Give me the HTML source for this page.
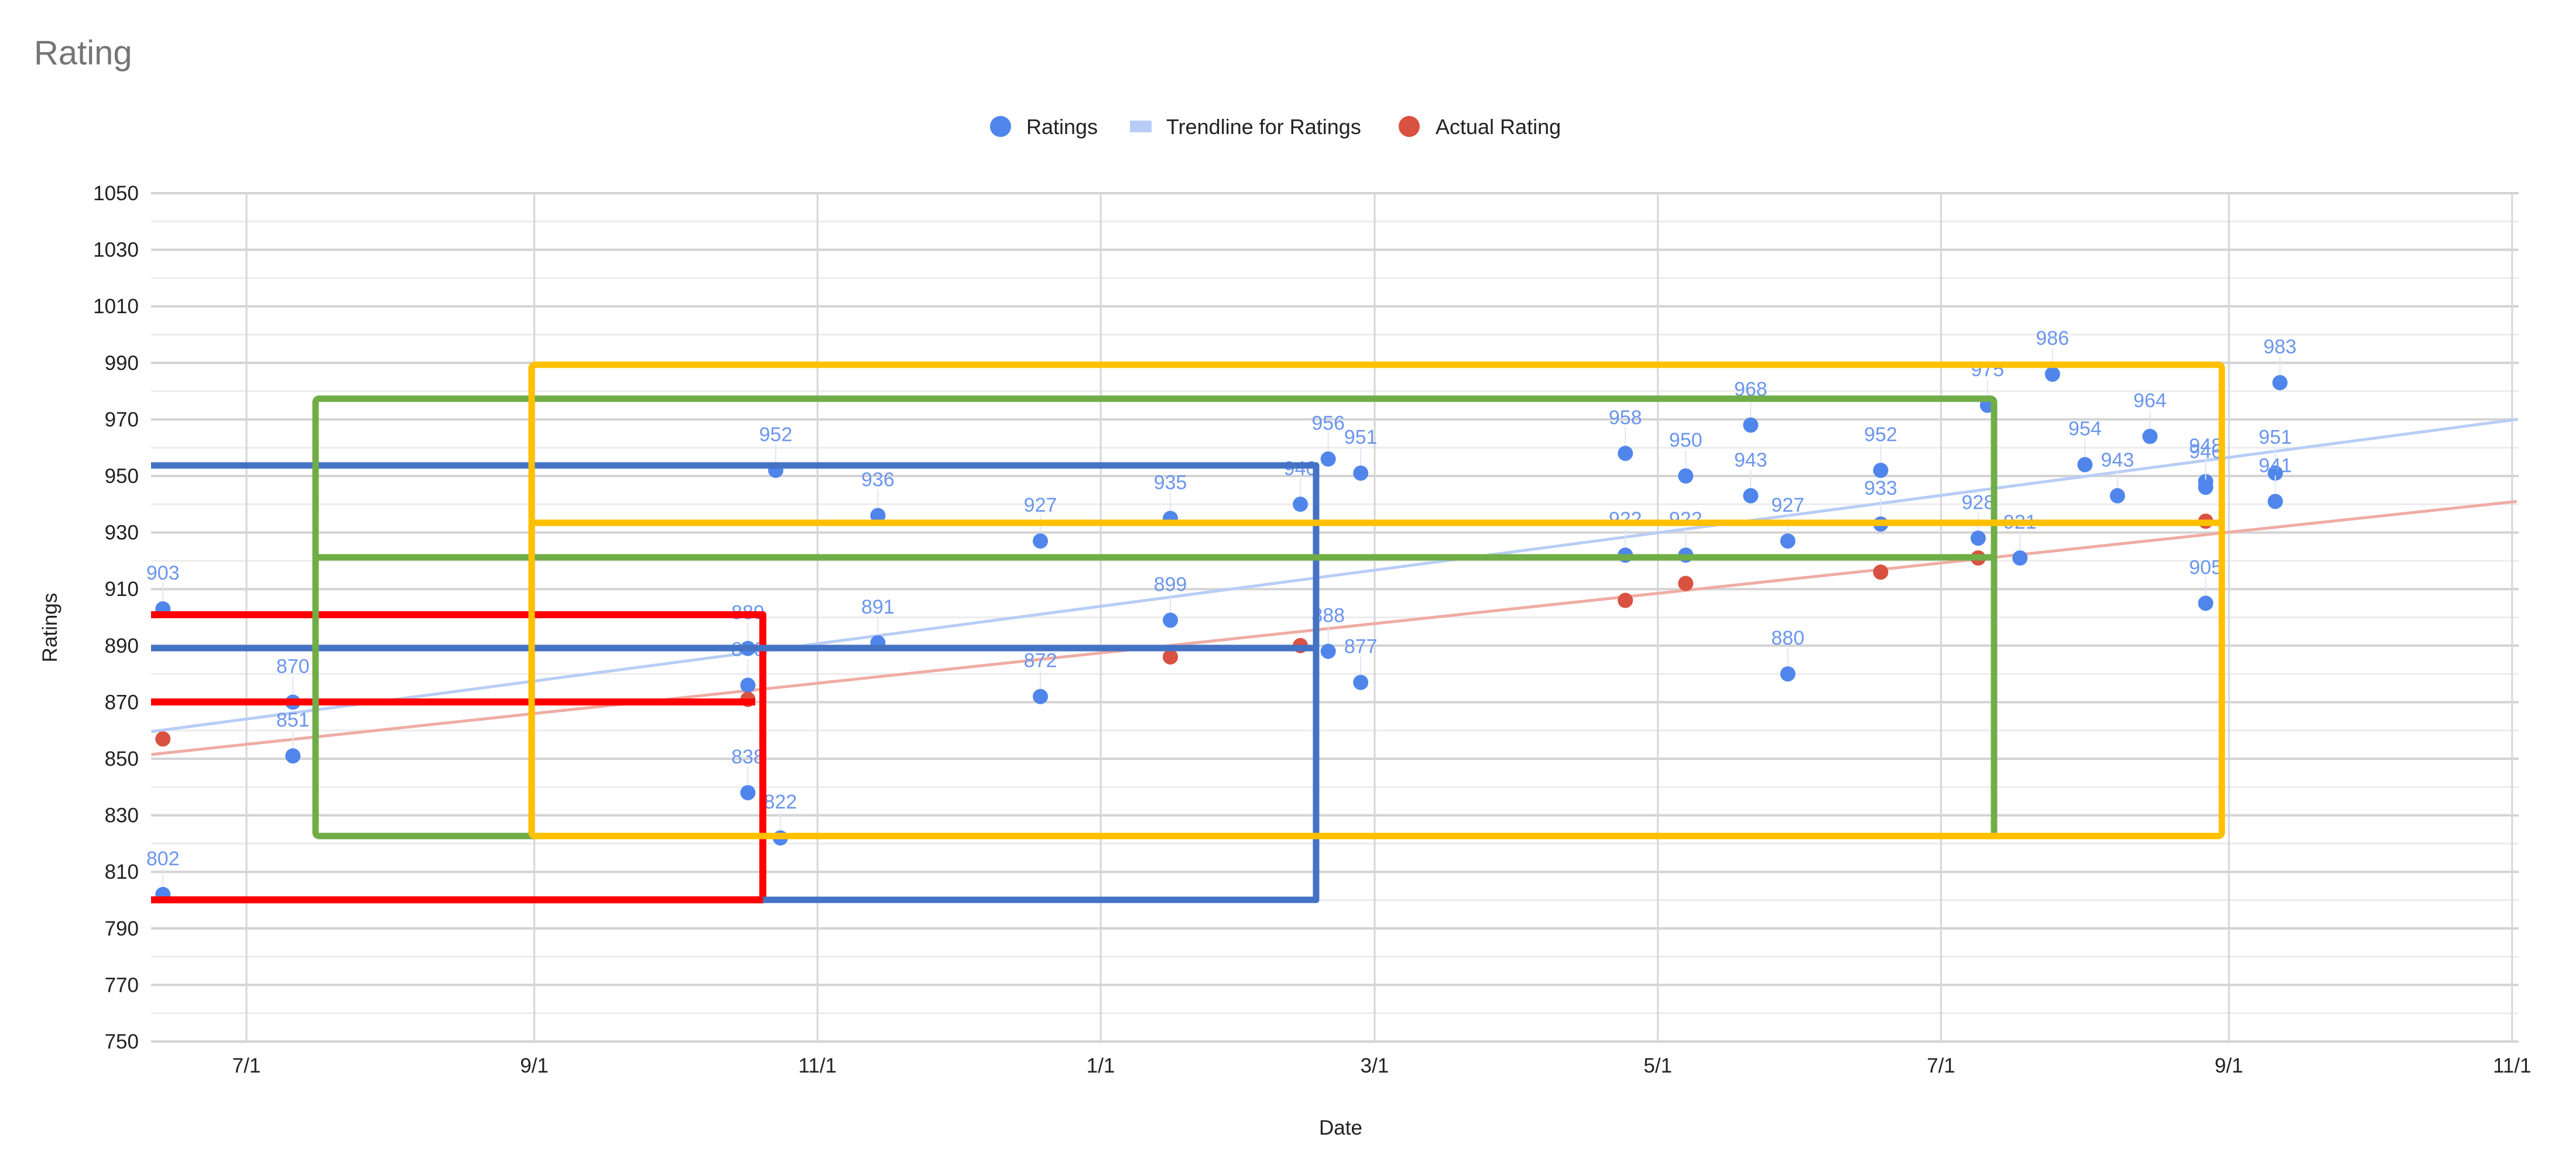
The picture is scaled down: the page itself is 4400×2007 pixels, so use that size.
<!DOCTYPE html>
<html><head><meta charset="utf-8"><style>
html,body{margin:0;padding:0;background:#fff;}
svg{display:block;font-family:"Liberation Sans",Arial,sans-serif;}
</style></head><body>
<svg id="chart" width="4400" height="2007" viewBox="0 0 4400 2007" xmlns="http://www.w3.org/2000/svg">
<rect x="0" y="0" width="4400" height="2007" fill="#fff"/>
<text x="58" y="110" font-size="58" fill="#757575">Rating</text>
<g>
  <g>
    <circle cx="1709" cy="216" r="18" fill="#5086ec"/>
    <text x="1753" y="229" font-size="36" fill="#222">Ratings</text>
  </g>
  <g>
    <rect x="1930" y="206" width="37" height="20" fill="#b8cdf6"/>
    <text x="1992" y="229" font-size="36" fill="#222">Trendline for Ratings</text>
  </g>
  <g>
    <circle cx="2407" cy="216" r="18" fill="#d95140"/>
    <text x="2452" y="229" font-size="36" fill="#222">Actual Rating</text>
  </g>
</g>
<g id="grid"></g>
<g id="axes"></g>
<g id="trends"></g>
<g id="marks"></g>
<g id="boxes" fill="none" stroke-linejoin="round">
  <g stroke="#ff0000" stroke-width="12">
    <polyline points="258,1050 1303,1050 1303,1537 258,1537"/>
    <line x1="258" y1="1199" x2="1290" y2="1199"/>
  </g>
  <g stroke="#4472c4" stroke-width="11">
    <polyline points="258,795 2248,795 2248,1537 1303,1537"/>
    <line x1="258" y1="1107" x2="2248" y2="1107"/>
  </g>
  <g stroke="#70ad47" stroke-width="11">
    <rect x="539" y="681" width="2867" height="747" rx="6"/>
    <line x1="539" y1="952" x2="3406" y2="952"/>
  </g>
  <g stroke="#ffc000" stroke-width="11">
    <rect x="908" y="623" width="2887" height="805" rx="6"/>
    <line x1="908" y1="893" x2="3795" y2="893"/>
  </g>
</g>
</svg>
<script>
// ---- data ----
const yTicks = [750,770,790,810,830,850,870,890,910,930,950,970,990,1010,1030,1050];
const xTickLabels = ["7/1","9/1","11/1","1/1","3/1","5/1","7/1","9/1","11/1"];
const xTickDays = [0,62,123,184,243,304,365,427,488];
const ratingDays = [-18,-18,10,10,108,108,108,115,114,136,136,171,171,199,199,227,233,233,240,240,297,297,310,310,324,324,332,332,352,352,373,375,382,389,396,403,410,422,422,422,437,437,438];
const ratingValues = [903,802,870,851,838,876,889,822,952,936,891,927,872,935,899,940,956,888,951,877,958,922,950,922,968,943,927,880,952,933,928,975,921,986,954,943,964,948,946,905,951,941,983];
const actualDays = [-18,108,199,227,297,310,352,373,422];
const actualValues = [857,871,886,890,906,912,916,921,934];
const trendDays = [-20.5,489];
const ratingTrend = [859.6,970];
const actualTrend = [851.5,941];

// ---- scales ----
const X0=421, PXD=7.93, PL=258, PR=4302, PB=1779;
function x(d){return X0+d*PXD;}
function y(v){return PB-(v-750)*4.83;}
const NS="http://www.w3.org/2000/svg";
function mk(tag,attrs,parent,txt){const e=document.createElementNS(NS,tag);for(const k in attrs)e.setAttribute(k,attrs[k]);if(txt!==undefined)e.textContent=txt;parent.appendChild(e);return e;}
const grid=document.getElementById('grid'), axes=document.getElementById('axes');
for(let v=750;v<=1050;v+=10){
  const major=(v-750)%20===0;
  const l=mk('line',{x1:PL,x2:PR,y1:y(v),y2:y(v),stroke:major?'#d3d3d3':'#ececec','stroke-width':major?4:3},grid);
  
  
}
xTickDays.forEach(d=>{
  const l=mk('line',{x1:x(d),x2:x(d),y1:y(1050),y2:PB,stroke:'#d6d6d6','stroke-width':3},grid);
  
  
});
yTicks.forEach(v=>{
  const t=mk('text',{x:237,y:y(v)+12,'font-size':35,'text-anchor':'end',fill:'#222'},axes,String(v));
  
  
});
xTickDays.forEach((d,i)=>{
  const t=mk('text',{x:x(d),y:1832,'font-size':35,'text-anchor':'middle',fill:'#222'},axes,xTickLabels[i]);
  
  
});
const yt=mk('text',{x:0,y:0,'font-size':35,'text-anchor':'middle',fill:'#222',transform:'translate(97,1072) rotate(-90)'},axes,'Ratings');


const xt=mk('text',{x:2290,y:1938,'font-size':35,'text-anchor':'middle',fill:'#222'},axes,'Date');


const trends=document.getElementById('trends');
const t1=mk('line',{x1:x(trendDays[0]),y1:y(ratingTrend[0]),x2:x(trendDays[1]),y2:y(ratingTrend[1]),stroke:'#b8cdf6','stroke-width':5},trends);


const t2=mk('line',{x1:x(trendDays[0]),y1:y(actualTrend[0]),x2:x(trendDays[1]),y2:y(actualTrend[1]),stroke:'#efaca4','stroke-width':5},trends);


const marks=document.getElementById('marks');
ratingDays.forEach((d,i)=>{
  const cx=x(d), cy=y(ratingValues[i]);
  const ld=mk('line',{x1:cx,x2:cx,y1:cy-12,y2:cy-44,stroke:'#dde6f8','stroke-width':2},marks);
  
  
  const c=mk('circle',{cx:cx,cy:cy,r:13,fill:'#5086ec'},marks);
  
  
  const t=mk('text',{x:cx,y:cy-50,'font-size':34,'text-anchor':'middle',fill:'#6b96ee'},marks,String(ratingValues[i]));
  
  
});
actualDays.forEach((d,i)=>{
  const c=mk('circle',{cx:x(d),cy:y(actualValues[i]),r:13,fill:'#d95140'},marks);
  
  
});
</script>
</body></html>
